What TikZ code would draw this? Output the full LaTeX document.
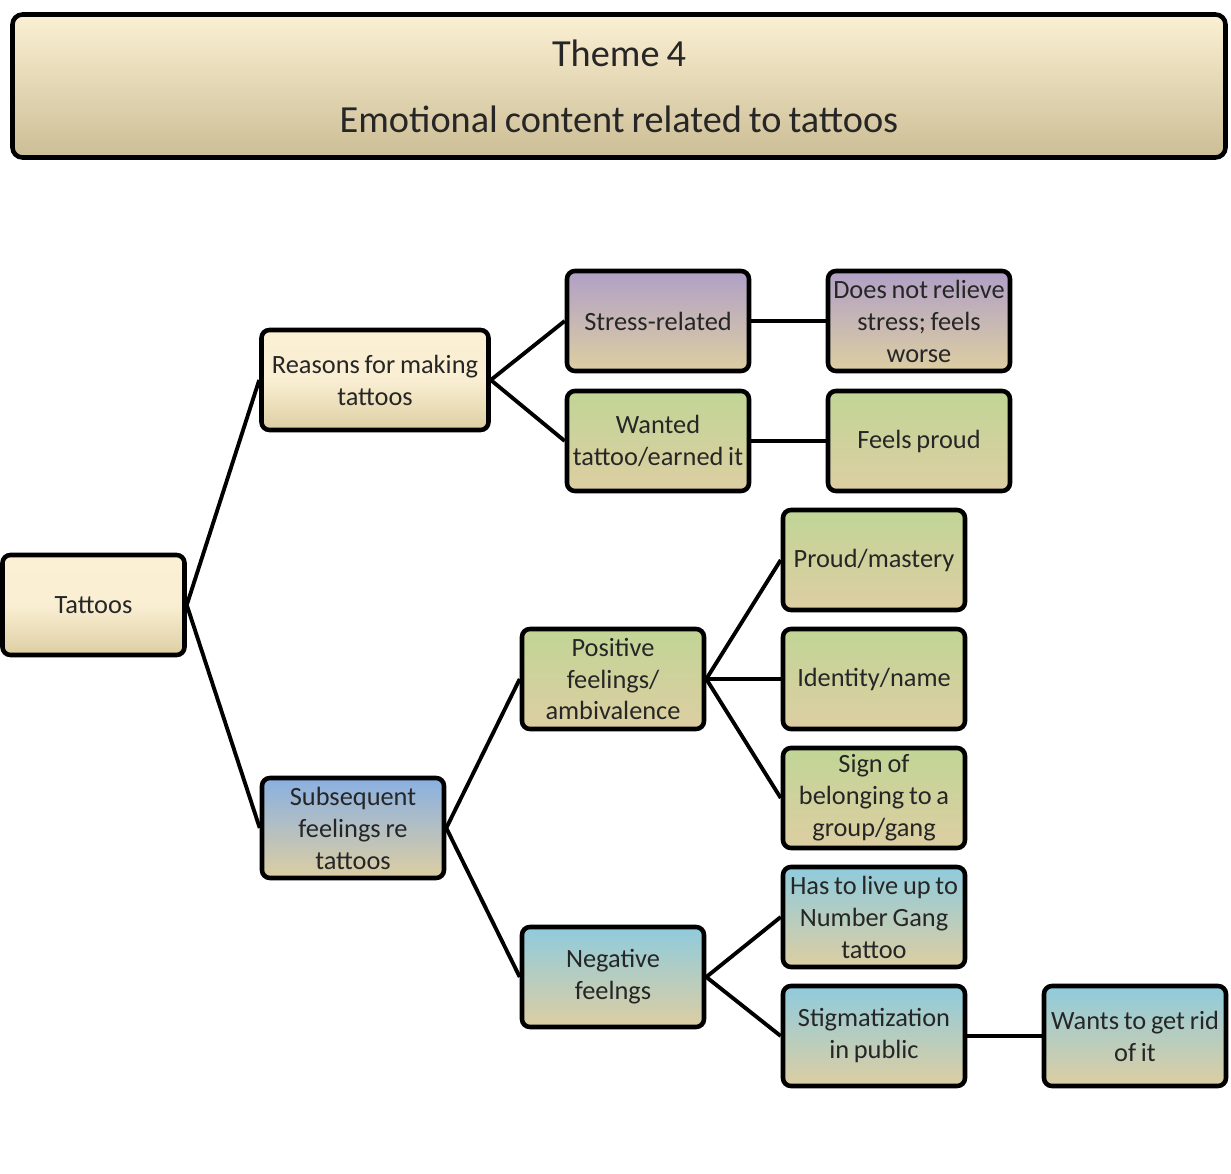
\documentclass[tikz,border=0pt]{standalone}
\usepackage{fontspec}
\setmainfont{Carlito}[WordSpace=0.8]
\usepackage{tikz}
\definecolor{boxcream}{RGB}{252, 240, 212}
\definecolor{boxmid}{RGB}{245, 236, 208}
\definecolor{boxtan}{RGB}{221, 206, 162}
\definecolor{boxlilac}{RGB}{176, 160, 198}
\definecolor{boxgreen}{RGB}{193, 213, 150}
\definecolor{boxblue}{RGB}{137, 176, 226}
\definecolor{boxaqua}{RGB}{143, 203, 221}
\definecolor{textgray}{RGB}{38, 38, 38}

\tikzset{
  card/.style={draw=black, line width=2.6pt, rounded corners=0.16cm,
    minimum width=3.64cm, minimum height=2.0cm, inner sep=0pt,
    align=center, text=textgray,
    font=\fontsize{15}{18.2}\selectfont,
    top color=#1, middle color=boxmid, bottom color=boxtan},
  card/.default=boxcream,
  link/.style={line width=2.2pt, black}
}

\begin{document}
\begin{tikzpicture}
    \useasboundingbox (0,0) rectangle (24.62,23.46);

    %% title box
    \node[draw=black, line width=2.6pt, rounded corners=0.2cm,
      minimum width=24.26cm, minimum height=2.86cm, inner sep=0pt,
      align=center, text=textgray, font=\fontsize{21.8}{37.4}\selectfont,
      top color=boxcream, middle color=boxcream, bottom color=boxtan!92!black]
      (title) at (12.38, 21.74) {Theme 4\\Emotional content related to tattoos};

    %% root and first level
    \node[card, middle color=boxcream!60!boxmid] (tattoos) at (1.87, 11.36) {Tattoos};
    \node[card, minimum width=4.54cm, middle color=boxcream!60!boxmid] (reasons) at (7.50, 15.86) {Reasons for making\\tattoos};
    \node[card=boxblue] (subseq) at (7.06, 6.90) {Subsequent\\feelings re\\tattoos};

    %% reasons branch
    \node[card=boxlilac] (stress) at (13.16, 17.04) {Stress-related};
    \node[card=boxgreen] (wanted) at (13.16, 14.64) {Wanted\\tattoo/earned it};
    \node[card=boxlilac] (relieve) at (18.38, 17.04) {Does not relieve\\stress; feels\\worse};
    \node[card=boxgreen] (proud) at (18.38, 14.64) {Feels proud};

    %% feelings branch
    \node[card=boxgreen] (positive) at (12.26, 9.88) {Positive\\feelings/\\ambivalence};
    \node[card=boxaqua] (negative) at (12.26, 3.92) {Negative\\feelngs};
    \node[card=boxgreen] (mastery) at (17.48, 12.26) {Proud/mastery};
    \node[card=boxgreen] (identity) at (17.48, 9.88) {Identity/name};
    \node[card=boxgreen] (belong) at (17.48, 7.50) {Sign of\\belonging to a\\group/gang};
    \node[card=boxaqua] (liveup) at (17.48, 5.12) {Has to live up to\\Number Gang\\tattoo};
    \node[card=boxaqua] (stigma) at (17.48, 2.74) {Stigmatization\\in public};
    \node[card=boxaqua] (getrid) at (22.70, 2.74) {Wants to get rid\\of it};

    %% connectors
    \draw[link] (tattoos.east) -- (reasons.west);
    \draw[link] (tattoos.east) -- (subseq.west);
    \draw[link] (reasons.east) -- (stress.west);
    \draw[link] (reasons.east) -- (wanted.west);
    \draw[link] (stress.east) -- (relieve.west);
    \draw[link] (wanted.east) -- (proud.west);
    \draw[link] (subseq.east) -- (positive.west);
    \draw[link] (subseq.east) -- (negative.west);
    \draw[link] (positive.east) -- (mastery.west);
    \draw[link] (positive.east) -- (identity.west);
    \draw[link] (positive.east) -- (belong.west);
    \draw[link] (negative.east) -- (liveup.west);
    \draw[link] (negative.east) -- (stigma.west);
    \draw[link] (stigma.east) -- (getrid.west);
\end{tikzpicture}
\end{document}
